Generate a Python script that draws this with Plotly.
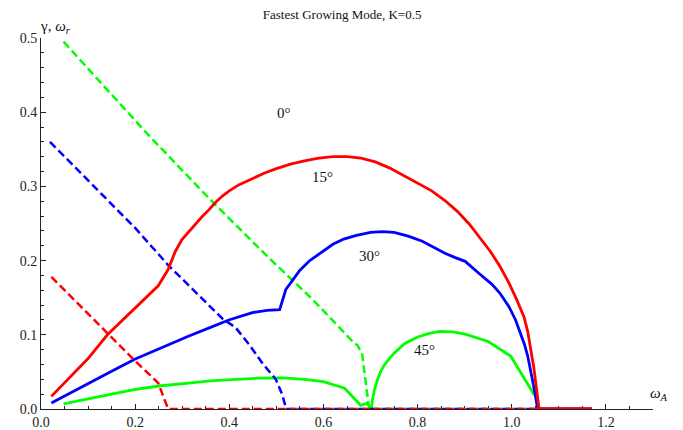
import plotly.graph_objects as go

# ---- data ----
red_solid_x = [0.022, 0.10, 0.141, 0.199, 0.249, 0.270, 0.285, 0.299, 0.314, 0.328, 0.342, 0.356, 0.370, 0.385,
               0.40, 0.42, 0.449, 0.475, 0.50, 0.53, 0.557, 0.59, 0.62, 0.65, 0.68, 0.71, 0.74, 0.77, 0.80,
               0.83, 0.858, 0.885, 0.91, 0.93, 0.955, 0.975, 0.994, 1.010, 1.026, 1.034, 1.041, 1.047, 1.052,
               1.058, 1.17]
red_solid_y = [0.017, 0.068, 0.100, 0.135, 0.166, 0.188, 0.212, 0.228, 0.239, 0.249, 0.259, 0.268, 0.278, 0.287,
               0.294, 0.302, 0.311, 0.318, 0.324, 0.330, 0.334, 0.338, 0.340, 0.340, 0.338, 0.333, 0.325, 0.315,
               0.305, 0.294, 0.281, 0.266, 0.249, 0.233, 0.212, 0.192, 0.170, 0.148, 0.124, 0.104, 0.080, 0.055,
               0.030, 0.0, 0.0]

red_dash_x = [0.022, 0.08, 0.141, 0.198, 0.249, 0.270, 1.17]
red_dash_y = [0.178, 0.141, 0.103, 0.066, 0.035, 0.0, 0.0]

blue_solid_x = [0.022, 0.06, 0.10, 0.15, 0.199, 0.26, 0.313, 0.36, 0.399, 0.449, 0.48, 0.507, 0.520, 0.535,
                0.55, 0.571, 0.60, 0.62, 0.643, 0.67, 0.70, 0.725, 0.75, 0.78, 0.81, 0.84, 0.858, 0.88, 0.901,
                0.93, 0.958, 0.975, 0.994, 1.008, 1.019, 1.027, 1.034, 1.041, 1.048, 1.055, 1.17]
blue_solid_y = [0.008, 0.021, 0.034, 0.051, 0.067, 0.084, 0.098, 0.110, 0.120, 0.130, 0.133, 0.134, 0.161, 0.174,
                0.187, 0.200, 0.213, 0.222, 0.229, 0.234, 0.238, 0.239, 0.238, 0.233, 0.226, 0.216, 0.210, 0.204,
                0.199, 0.183, 0.168, 0.156, 0.138, 0.120, 0.102, 0.087, 0.071, 0.050, 0.026, 0.0, 0.0]

blue_dash_x = [0.019, 0.10, 0.20, 0.270, 0.320, 0.385, 0.413, 0.442, 0.471, 0.499, 0.512, 0.521, 1.17]
blue_dash_y = [0.360, 0.308, 0.244, 0.194, 0.163, 0.122, 0.110, 0.087, 0.061, 0.040, 0.020, 0.0, 0.0]

green_solid_x = [0.048, 0.10, 0.15, 0.198, 0.25, 0.313, 0.36, 0.414, 0.46, 0.514, 0.56, 0.600, 0.645, 0.679,
                 0.693, 0.702, 0.704, 0.708, 0.715, 0.722, 0.729, 0.74, 0.751, 0.772, 0.80, 0.825, 0.847, 0.875,
                 0.901, 0.950, 0.998, 1.048]
green_solid_y = [0.007, 0.014, 0.020, 0.026, 0.031, 0.035, 0.038, 0.040, 0.0415, 0.042, 0.040, 0.037, 0.028, 0.005,
                 0.008, 0.0, 0.012, 0.025, 0.040, 0.051, 0.059, 0.068, 0.076, 0.088, 0.097, 0.102, 0.1045, 0.104,
                 0.101, 0.091, 0.071, 0.019]

green_dash_x = [0.048, 0.227, 0.363, 0.485, 0.535, 0.578, 0.665, 0.672, 0.682, 0.690, 0.697, 1.17]
green_dash_y = [0.495, 0.370, 0.280, 0.203, 0.173, 0.147, 0.089, 0.086, 0.075, 0.038, 0.0, 0.0]

angle_labels = ["0°", "15°", "30°", "45°"]
angle_x = [0.516, 0.597, 0.697, 0.815]
angle_y = [0.399, 0.313, 0.206, 0.080]

x_ticks = [0.0, 0.2, 0.4, 0.6, 0.8, 1.0, 1.2]
y_ticks = [0.0, 0.1, 0.2, 0.3, 0.4, 0.5]

RED, BLUE, GREEN = "#ff0000", "#0000ff", "#00ff00"
DASH = "8px,4px"
SERIF = "Liberation Serif"

fig = go.Figure()
series = [
    (green_solid_x, green_solid_y, GREEN, "solid", 2.8),
    (green_dash_x, green_dash_y, GREEN, DASH, 2.5),
    (blue_solid_x, blue_solid_y, BLUE, "solid", 2.8),
    (blue_dash_x, blue_dash_y, BLUE, DASH, 2.5),
    (red_solid_x, red_solid_y, RED, "solid", 2.8),
    (red_dash_x, red_dash_y, RED, DASH, 2.5),
]
for xs, ys, col, dash, w in series:
    fig.add_trace(go.Scatter(x=xs, y=ys, mode="lines", cliponaxis=False,
                             line=dict(color=col, width=w, dash=dash), showlegend=False))

for t, xx, yy in zip(angle_labels, angle_x, angle_y):
    fig.add_annotation(x=xx, y=yy, text=t, showarrow=False,
                       font=dict(family=SERIF, size=15, color="#111"))

fig.add_annotation(xref="paper", yref="paper", x=-0.005, y=1.058, text="γ, <i>ω<sub>r</sub></i>",
                   showarrow=False, font=dict(family=SERIF, size=15, color="#111"))
fig.add_annotation(xref="paper", yref="paper", x=1.027, y=0.012, text="<i>ω<sub>A</sub></i>",
                   showarrow=False, font=dict(family=SERIF, size=15, color="#111"))

axis_common = dict(showgrid=False, zeroline=False, showline=True, linecolor="#222", linewidth=1,
                   ticks="inside", ticklen=5, tickcolor="#222", tickwidth=1, layer="below traces",
                   automargin=False,
                   tickfont=dict(family=SERIF, size=14, color="#222"), tickformat=".1f")

# page body has an 8px margin, so the figure is 8px smaller and margins are shifted
fig.update_layout(
    width=675, height=422,
    margin=dict(l=33, r=30, t=30, b=21),
    plot_bgcolor="white", paper_bgcolor="white",
    title=dict(text="Fastest Growing Mode, K=0.5", x=0.495, xanchor="center", y=0.985, yanchor="middle",
               font=dict(family=SERIF, size=13, color="#111")),
    xaxis=dict(range=[0, 1.3], tickvals=x_ticks,
               minor=dict(dtick=0.05, tick0=0, ticks="inside", ticklen=3, tickcolor="#222"),
               **axis_common),
    yaxis=dict(range=[0, 0.5], tickvals=y_ticks,
               minor=dict(dtick=0.02, tick0=0, ticks="inside", ticklen=3, tickcolor="#222"),
               **axis_common),
)

fig.write_html("out.html")
